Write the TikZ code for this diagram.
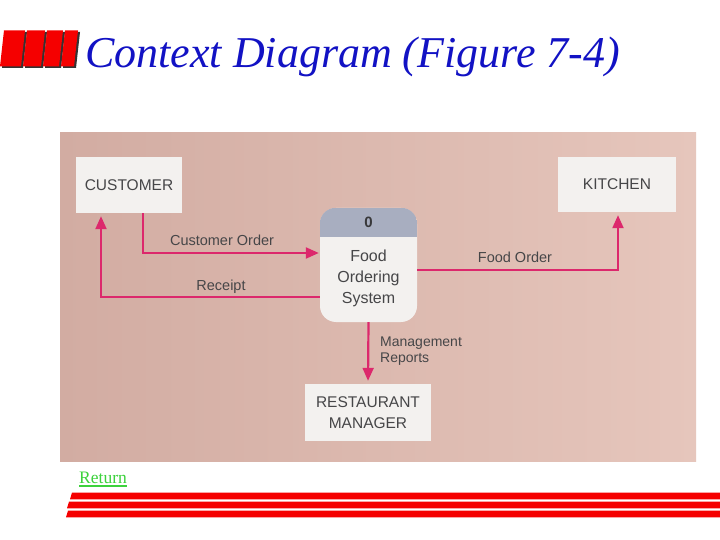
\documentclass[tikz,border=0pt]{standalone}
\usepackage{fontspec}
\setmainfont{Liberation Serif}
\setsansfont{Liberation Sans}
\usetikzlibrary{arrows.meta,calc}
\definecolor{titleblue}{RGB}{18,18,196}
\definecolor{logored}{RGB}{245,0,0}
\definecolor{photoL}{RGB}{210,172,162}
\definecolor{photoR}{RGB}{230,198,188}
\definecolor{boxfill}{RGB}{243,241,239}
\definecolor{headfill}{RGB}{168,174,192}
\definecolor{txt}{RGB}{70,70,72}
\definecolor{flowc}{RGB}{220,40,108}
\definecolor{retgreen}{RGB}{60,210,60}
\tikzset{
  entity/.style={fill=boxfill, inner sep=0pt, align=center, text=txt,
    font=\sffamily\fontsize{15.5}{21}\selectfont},
  flow/.style={draw=flowc, line width=2.2pt, shorten >=3pt, -{Triangle[length=13pt,width=11pt]}},
  flowlabel/.style={text=txt, inner sep=0pt, font=\sffamily\fontsize{14.5}{16}\selectfont},
  logobar/.style={fill=logored},
  logoshadow/.style={fill=black!80},
}
\begin{document}
\begin{tikzpicture}[x=1pt,y=-1pt]
\useasboundingbox (0,0) rectangle (720,540);
\fill[white] (0,0) rectangle (720,540);
% logo bars
\foreach \a/\b in {0/21, 23/41, 43/59, 61/74}{
  \fill[logoshadow] (\a+2,68) -- (\b+2,68) -- (\b+6,32) -- (\a+6,32) -- cycle;
  \fill[logobar] (\a,66.5) -- (\b,66.5) -- (\b+4,30.5) -- (\a+4,30.5) -- cycle;
}
\node[anchor=base west, inner sep=0pt, text=titleblue, font=\itshape\fontsize{44}{48}\selectfont] (title) at (85,68) {Context Diagram (Figure 7-4)};
% photo background
\shade[left color=photoL, right color=photoR] (60,133) rectangle (696,461);
% entities
\node[entity, minimum width=106pt, minimum height=56pt] (cust) at (129,185) {CUSTOMER};
\node[entity, minimum width=118pt, minimum height=55pt] (kit) at (617,184.5) {KITCHEN};
\node[entity, minimum width=126pt, minimum height=57pt] (mgr) at (368,412.5) {RESTAURANT\\MANAGER};
% process
\node[fill=boxfill, rounded corners=16pt, minimum width=97pt, minimum height=114pt, inner sep=0pt] (p) at (368.5,265) {};
\begin{scope}
  \clip[rounded corners=16pt] (p.south west) rectangle (p.north east);
  \fill[headfill] (p.north west) rectangle ($(p.north east)+(0,29)$);
\end{scope}
\node[text=txt!80!black, inner sep=0pt, font=\sffamily\bfseries\fontsize{15}{16}\selectfont] (pid) at ($(p.north)+(0,14.5)$) {0};
\node[text=txt, inner sep=0pt, align=center, font=\sffamily\fontsize{16}{21}\selectfont] (pname) at (368.5,278) {Food\\Ordering\\System};
% flows
\coordinate (co) at (143,253);
\coordinate (rc) at (101,297);
\coordinate (fo) at (618,270);
\draw[flow, shorten >=1pt] (cust.south -| co) |- (p.west |- co);
\draw[flow] (p.west |- rc) -| (cust.south -| rc);
\draw[flow] (p.east |- fo) -| (kit.south -| fo);
\draw[flow] (p.south) -- (mgr.north);
\node[flowlabel] (lco) at (222,240) {Customer Order};
\node[flowlabel] (lrc) at (221,287) {Receipt};
\node[flowlabel] (lfo) at (515,257) {Food Order};
\node[flowlabel, anchor=west, align=left, font=\sffamily\fontsize{14}{16}\selectfont] (lmr) at (380,351) {Management\\Reports};
% return link
\node[anchor=base west, inner sep=0pt, text=retgreen, font=\fontsize{17.5}{19}\selectfont] (ret) at (79,483) {Return};
\draw[retgreen, line width=1.2pt] ($(ret.base west)+(0,3)$) -- ($(ret.base east)+(0,3)$);
% bottom bars
\fill[logored] (72,492.5) -- (720,492.5) -- (720,499.3) -- (70,499.3) -- cycle;
\fill[logored] (69,501.7) -- (720,501.7) -- (720,508.3) -- (67,508.3) -- cycle;
\fill[logored] (68,510.7) -- (720,510.7) -- (720,517.3) -- (66,517.3) -- cycle;
\end{tikzpicture}
\end{document}
